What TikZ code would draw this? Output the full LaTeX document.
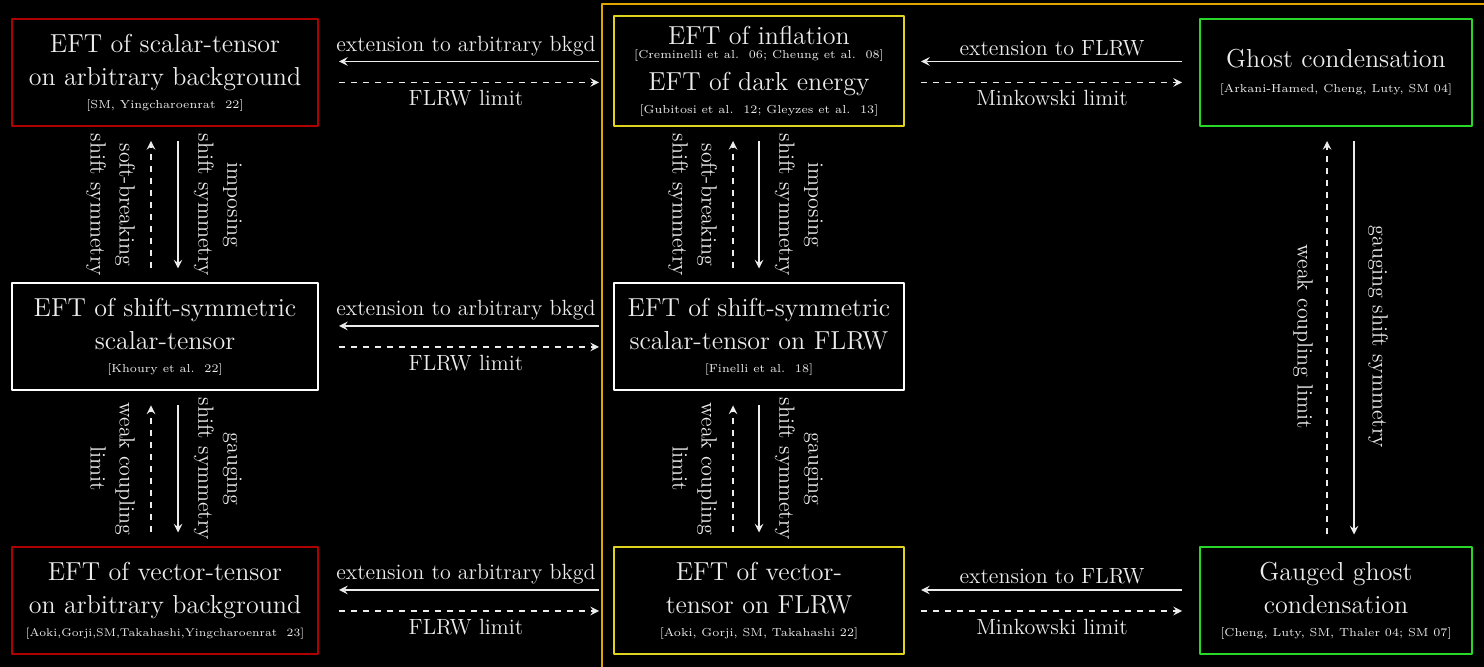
\documentclass[tikz,border=0pt]{standalone}
\definecolor{framegold}{RGB}{224,166,0}
\definecolor{boxyellow}{RGB}{222,212,30}
\definecolor{boxred}{RGB}{175,0,0}
\definecolor{boxgreen}{RGB}{40,215,40}
\definecolor{txtgray}{RGB}{236,236,236}
\newcommand{\boxfont}{\fontsize{13}{16.5}\selectfont}
\newcommand{\reffont}{\fontsize{5.8}{7}\selectfont}
\newcommand{\lblfont}{\fontsize{11}{14.5}\selectfont}
\begin{document}
\begin{tikzpicture}[x=0.5pt, y=-0.5pt, >=stealth, line join=round]
  \tikzset{
    box/.style={draw, line width=1pt, align=center, inner sep=2pt, minimum height=53.5pt, text=txtgray, font=\boxfont},
    solidarr/.style={->, draw=txtgray, line width=0.9pt},
    dasharr/.style={->, draw=txtgray, line width=0.9pt, dashed},
    hlbl/.style={font=\lblfont, text=txtgray, inner sep=2.5pt},
    vlbl/.style={font=\lblfont, text=txtgray, align=center, rotate=-90, inner sep=3pt, outer sep=5pt}
  }
  \path[fill=black, use as bounding box] (0,0) rectangle (1484,667);
  \draw[framegold, line width=1pt] (602,4) rectangle (1495,680);
  % left column: arbitrary background
  \node[box, draw=boxred, minimum width=153pt] (stArb) at (165,72.5)
    {EFT of scalar-tensor\\on arbitrary background\\[-5pt]{\reffont [SM, Yingcharoenrat~~22]}};
  \node[box, draw=white, minimum width=153pt] (sstGen) at (165,337)
    {EFT of shift-symmetric\\scalar-tensor\\[-5pt]{\reffont [Khoury et al.~~22]}};
  \node[box, draw=boxred, minimum width=153pt] (vtArb) at (165,601)
    {EFT of vector-tensor\\on arbitrary background\\[-5pt]{\fontsize{5.6}{7}\selectfont [Aoki,Gorji,SM,Takahashi,Yingcharoenrat~~23]}};
  % middle column: FLRW
  \node[box, draw=boxyellow, minimum width=145pt, minimum height=55pt] (inflation) at (759,71)
    {EFT of inflation\\[-9.5pt]{\reffont [Creminelli et al.~~06; Cheung et al.~~08]}\\[-0.5pt]EFT of dark energy\\[-5pt]{\reffont [Gubitosi et al.~~12; Gleyzes et al.~~13]}};
  \node[box, draw=white, minimum width=145pt] (sstFLRW) at (759,337)
    {EFT of shift-symmetric\\scalar-tensor on FLRW\\[-5pt]{\reffont [Finelli et al.~~18]}};
  \node[box, draw=boxyellow, minimum width=145pt] (vtFLRW) at (759,601)
    {EFT of vector-\\tensor on FLRW\\[-5pt]{\reffont [Aoki, Gorji, SM, Takahashi 22]}};
  % right column: Minkowski
  \node[box, draw=boxgreen, minimum width=136pt] (ghost) at (1336,72.5)
    {Ghost condensation\\[-4pt]{\reffont [Arkani-Hamed, Cheng, Luty, SM 04]}};
  \node[box, draw=boxgreen, minimum width=136pt] (gghost) at (1336,601)
    {Gauged ghost\\condensation\\[-5pt]{\reffont [Cheng, Luty, SM, Thaler 04; SM 07]}};

  % horizontal arrows
  \foreach \frlw/\arb in {inflation/stArb, sstFLRW/sstGen, vtFLRW/vtArb}{
    \draw[solidarr, shorten <=7pt, shorten >=10pt] ([yshift=5.5pt]\frlw.west |- \arb.east) -- ([yshift=5.5pt]\arb.east)
      node[midway, above, hlbl] {extension to arbitrary bkgd};
    \draw[dasharr, shorten <=10pt, shorten >=7pt] ([yshift=-5pt]\arb.east) -- ([yshift=-5pt]\frlw.west |- \arb.east)
      node[midway, below, hlbl, inner sep=3.5pt] {FLRW limit};
  }
  \foreach \mink/\frlw in {ghost/inflation, gghost/vtFLRW}{
    \draw[solidarr, shorten <=8.5pt, shorten >=8pt] ([yshift=5.5pt]\mink.west) -- ([yshift=5.5pt]\frlw.east |- \mink.west)
      node[midway, above, hlbl] {extension to FLRW};
    \draw[dasharr, shorten <=8pt, shorten >=8.5pt] ([yshift=-5pt]\frlw.east |- \mink.west) -- ([yshift=-5pt]\mink.west)
      node[midway, below, hlbl, inner sep=3.5pt] {Minkowski limit};
  }

  % vertical arrows
  \draw[solidarr, shorten <=7pt, shorten >=7pt] ([xshift=6.5pt]stArb.south) -- ([xshift=6.5pt]sstGen.north)
    node[midway, anchor=south, vlbl] {imposing\\shift symmetry};
  \draw[dasharr, shorten <=7pt, shorten >=7pt] ([xshift=-7pt]sstGen.north) -- ([xshift=-7pt]stArb.south)
    node[midway, anchor=north, vlbl] {soft-breaking\\shift symmetry};
  \draw[solidarr, shorten <=7pt, shorten >=7pt] ([xshift=6.5pt]sstGen.south) -- ([xshift=6.5pt]vtArb.north)
    node[midway, anchor=south, vlbl] {gauging\\shift symmetry};
  \draw[dasharr, shorten <=7pt, shorten >=7pt] ([xshift=-7pt]vtArb.north) -- ([xshift=-7pt]sstGen.south)
    node[midway, anchor=north, vlbl] {weak coupling\\limit};

  \draw[solidarr, shorten <=7pt, shorten >=7pt] (inflation.south) -- (sstFLRW.north)
    node[midway, anchor=south, vlbl] {imposing\\shift symmetry};
  \draw[dasharr, shorten <=7pt, shorten >=7pt] ([xshift=-13pt]sstFLRW.north) -- ([xshift=-13pt]inflation.south)
    node[midway, anchor=north, vlbl] {soft-breaking\\shift symmetry};
  \draw[solidarr, shorten <=7pt, shorten >=7pt] (sstFLRW.south) -- (vtFLRW.north)
    node[midway, anchor=south, vlbl] {gauging\\shift symmetry};
  \draw[dasharr, shorten <=7pt, shorten >=7pt] ([xshift=-13pt]vtFLRW.north) -- ([xshift=-13pt]sstFLRW.south)
    node[midway, anchor=north, vlbl] {weak coupling\\limit};

  \draw[solidarr, shorten <=7pt, shorten >=6pt] ([xshift=9pt]ghost.south) -- ([xshift=9pt]gghost.north)
    node[midway, anchor=south, vlbl, outer sep=4pt] {gauging shift symmetry};
  \draw[dasharr, shorten <=6pt, shorten >=7pt] ([xshift=-4.5pt]gghost.north) -- ([xshift=-4.5pt]ghost.south)
    node[midway, anchor=north, vlbl, outer sep=4pt] {weak coupling limit};
\end{tikzpicture}
\end{document}
